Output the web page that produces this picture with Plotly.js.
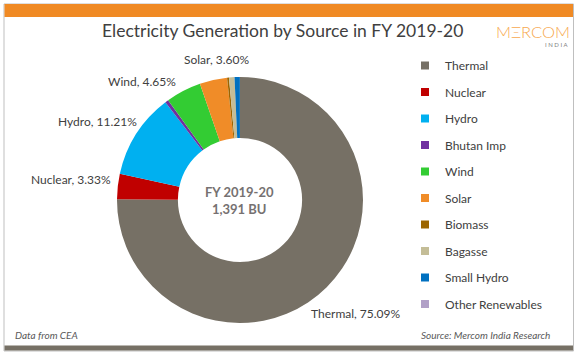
<!DOCTYPE html>
<html>
<head>
<meta charset="utf-8">
<script src="https://cdn.plot.ly/plotly-3.0.1.min.js"></script>
<style>html,body{margin:0;padding:0;background:#fff;}#chart{width:579px;height:357px;}</style>
</head>
<body>
<div id="chart"></div>
<script>
// ---- data ----
const sources = ["Thermal","Nuclear","Hydro","Bhutan Imp","Wind","Solar","Biomass","Bagasse","Small Hydro","Other Renewables"];
const shares = [75.09, 3.33, 11.21, 0.44, 4.65, 3.60, 0.25, 0.72, 0.70, 0.01];
const colors = ["#767065","#c00000","#00b0f0","#7030a0","#33cc33","#f08c28","#9c6500","#c4bd97","#0070c0","#b1a0c7"];
const labelledSources = ["Solar","Wind","Hydro","Nuclear","Thermal"];
const centerLines = ["FY 2019-20","1,391 BU"];
const chartTitle = "Electricity Generation by Source in FY 2019-20";
const footLeft = "Data from CEA";
const footRight = "Source: Mercom India Research";

// ---- layout helpers (pixel -> paper) ----
const W = 579, H = 357;
const px = x => x / W;
const py = y => (H - y) / H;
const FONT = "Lato, 'Open Sans', sans-serif";

// label placements (layout only)
const labelPos = {
  "Solar":   [216, 60],
  "Wind":    [142, 82],
  "Hydro":   [97, 121],
  "Nuclear": [71, 179],
  "Thermal": [356, 313]
};

const traces = [{
  type: "pie",
  labels: sources,
  values: shares,
  marker: {colors: colors, line: {width: 0}},
  hole: 0.505,
  sort: false,
  direction: "clockwise",
  rotation: 0,
  textinfo: "none",
  hoverinfo: "label+percent",
  showlegend: false,
  domain: {x: [px(117), px(363)], y: [py(323), py(77)]}
}];

// legend entries as separate traces so that spacing can match
sources.forEach((s, i) => {
  traces.push({
    type: "scatter", mode: "markers", x: [null], y: [null],
    name: s, legendgroup: "g" + i, showlegend: true,
    marker: {symbol: "square", size: 8, color: colors[i]},
    hoverinfo: "skip"
  });
});

const annotations = [];
labelledSources.forEach(s => {
  const i = sources.indexOf(s);
  annotations.push({
    xref: "paper", yref: "paper",
    x: px(labelPos[s][0]), y: py(labelPos[s][1]),
    xanchor: "center", yanchor: "middle",
    text: s + ", " + shares[i].toFixed(2) + "%",
    showarrow: false,
    font: {family: FONT, size: 12, color: "#404040"}
  });
});
annotations.push({
  xref: "paper", yref: "paper", x: px(240), y: py(200),
  xanchor: "center", yanchor: "middle",
  text: "<b>" + centerLines.join("</b><br><b>") + "</b>",
  showarrow: false,
  font: {family: FONT, size: 13, color: "#767171"}
});
annotations.push({
  xref: "paper", yref: "paper", x: px(282), y: py(30),
  xanchor: "center", yanchor: "middle",
  text: chartTitle, showarrow: false,
  font: {family: FONT, size: 17.5, color: "#404040"}
});
annotations.push({
  xref: "paper", yref: "paper", x: px(571), y: py(31.5),
  xanchor: "right", yanchor: "middle", height: 12, borderpad: 0,
  text: "M\u039eRCOM", showarrow: false,
  font: {family: FONT, size: 16.5, color: "#f7a94f", weight: 300}
});
annotations.push({
  xref: "paper", yref: "paper", x: px(569), y: py(43.5),
  xanchor: "right", yanchor: "middle", height: 6, borderpad: 0,
  text: "I N D I A", showarrow: false,
  font: {family: FONT, size: 6, color: "#7f7f7f"}
});
annotations.push({
  xref: "paper", yref: "paper", x: px(13), y: py(335),
  xanchor: "left", yanchor: "middle",
  text: "<i>" + footLeft + "</i>", showarrow: false,
  font: {family: FONT, size: 10, color: "#595959"}
});
annotations.push({
  xref: "paper", yref: "paper", x: px(552), y: py(335),
  xanchor: "right", yanchor: "middle",
  text: "<i>" + footRight + "</i>", showarrow: false,
  font: {family: FONT, size: 10, color: "#595959"}
});

const shapes = [
  {type: "rect", xref: "paper", yref: "paper", x0: px(4), x1: px(573.5), y0: py(351), y1: py(4),
   line: {color: "#bfbfbf", width: 1}, fillcolor: "rgba(0,0,0,0)", layer: "below"},
  {type: "rect", xref: "paper", yref: "paper", x0: px(4.5), x1: px(573), y0: py(17), y1: py(4),
   line: {width: 0}, fillcolor: "#f08a24", layer: "below"},
  {type: "rect", xref: "paper", yref: "paper", x0: px(4.5), x1: px(573), y0: py(350.5), y1: py(345.5),
   line: {width: 0}, fillcolor: "#767065", layer: "below"}
];

const layout = {
  width: W, height: H,
  margin: {l: 0, r: 0, t: 0, b: 0},
  paper_bgcolor: "#ffffff", plot_bgcolor: "rgba(0,0,0,0)",
  xaxis: {visible: false, domain: [0.99, 1]},
  yaxis: {visible: false, domain: [0.99, 1]},
  showlegend: true,
  legend: {
    x: px(405), y: py(51), xanchor: "left", yanchor: "top",
    traceorder: "grouped", tracegroupgap: 7.5,
    font: {family: FONT, size: 12, color: "#404040"},
    bgcolor: "rgba(0,0,0,0)", itemclick: false
  },
  annotations: annotations,
  shapes: shapes
};

Plotly.newPlot("chart", traces, layout, {displayModeBar: false, staticPlot: true});
</script>
</body>
</html>
